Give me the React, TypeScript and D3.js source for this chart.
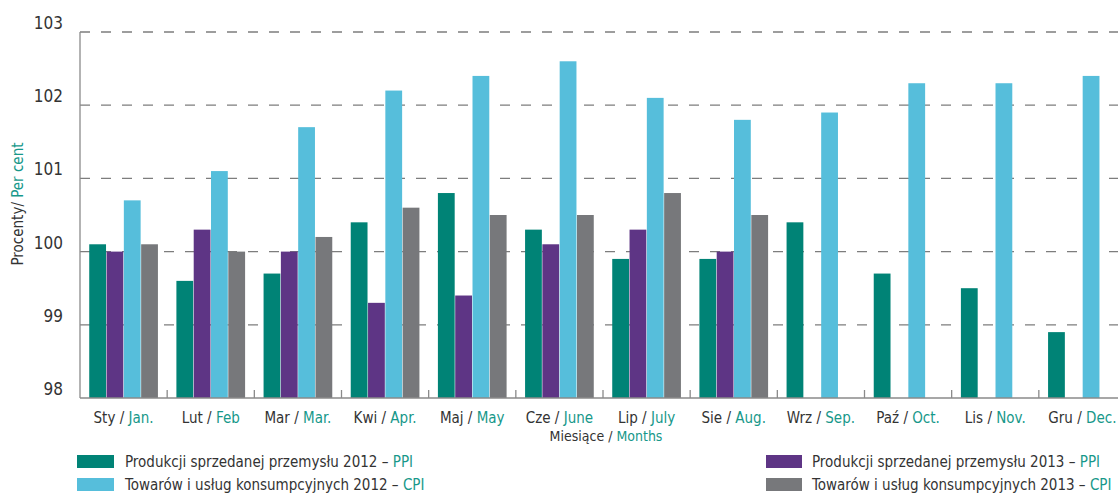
import React from 'react';
import * as d3 from 'd3';

const monthsPl = ['Sty', 'Lut', 'Mar', 'Kwi', 'Maj', 'Cze', 'Lip', 'Sie', 'Wrz', 'Paź', 'Lis', 'Gru'];
const monthsEn = ['Jan.', 'Feb', 'Mar.', 'Apr.', 'May', 'June', 'July', 'Aug.', 'Sep.', 'Oct.', 'Nov.', 'Dec.'];

const ppi2012 = [100.1, 99.6, 99.7, 100.4, 100.8, 100.3, 99.9, 99.9, 100.4, 99.7, 99.5, 98.9];
const ppi2013 = [100.0, 100.3, 100.0, 99.3, 99.4, 100.1, 100.3, 100.0, null, null, null, null];
const cpi2012 = [100.7, 101.1, 101.7, 102.2, 102.4, 102.6, 102.1, 101.8, 101.9, 102.3, 102.3, 102.4];
const cpi2013 = [100.1, 100.0, 100.2, 100.6, 100.5, 100.5, 100.8, 100.5, null, null, null, null];

const yTicks = [98, 99, 100, 101, 102, 103];

const seriesKeys = ['ppi2012', 'ppi2013', 'cpi2012', 'cpi2013'];
const seriesColors = ['#008376', '#5e3585', '#56bedb', '#77787b'];
const seriesData = [ppi2012, ppi2013, cpi2012, cpi2013];

const accent = '#17988a';
const dark = '#333333';
const font = '"Liberation Sans Narrow", "DejaVu Sans Condensed", sans-serif';

export default function App() {
  const width = 1118;
  const height = 494;
  const left = 80;
  const right = 1126;
  const top = 32;
  const bottom = 398;

  const x = d3.scaleBand<number>().domain(d3.range(12)).range([left, right]).paddingInner(0.2).paddingOuter(0.1);
  const step = x.step();
  const xs = d3.scaleBand<string>().domain(seriesKeys).range([0, x.bandwidth()]).padding(0.03);
  const y = d3.scaleLinear().domain([98, 103]).range([bottom, top]);

  return (
    <div style={{ position: 'absolute', left: 0, top: 0 }}>
      <svg width={width} height={height} style={{ display: 'block', fontFamily: font }}>
        {/* grid */}
        {yTicks.filter(t => t > 98).map(t => (
          <line key={t} x1={left} x2={width} y1={y(t)} y2={y(t)} stroke="#7d7d7d" strokeWidth={1.3} strokeDasharray="10 11" />
        ))}
        {yTicks.map(t => (
          <text key={t} x={63} y={y(t) - 3} textAnchor="end" fontSize={17} fill={dark}>{t}</text>
        ))}
        {/* bars */}
        {seriesData.map((arr, si) =>
          arr.map((v, i) =>
            v == null ? null : (
              <rect
                key={si + '-' + i}
                x={(x(i) as number) + (xs(seriesKeys[si]) as number)}
                y={y(Math.max(v, 98))}
                width={xs.bandwidth()}
                height={y(98) - y(v)}
                fill={seriesColors[si]}
              />
            )
          )
        )}
        {/* axes */}
        <line x1={left} x2={left} y1={top} y2={bottom} stroke="#8a8a8a" strokeWidth={1.3} />
        <line x1={left} x2={width} y1={bottom} y2={bottom} stroke="#8a8a8a" strokeWidth={1.5} />
        {d3.range(1, 13).map(i => (
          <line key={i} x1={left + i * step} x2={left + i * step} y1={bottom - 8} y2={bottom} stroke="#8a8a8a" strokeWidth={1.3} />
        ))}
        {/* x labels */}
        {monthsPl.map((m, i) => (
          <text key={m} x={(x(i) as number) + x.bandwidth() / 2} y={423} textAnchor="middle" fontSize={15} fill={dark}>
            {m} / <tspan fill={accent}>{monthsEn[i]}</tspan>
          </text>
        ))}
        <text x={606} y={441} textAnchor="middle" fontSize={14} fill={dark}>
          Miesiące / <tspan fill={accent}>Months</tspan>
        </text>
        {/* y title */}
        <text transform="translate(23,204) rotate(-90)" textAnchor="middle" fontSize={15} fill={dark}>
          Procenty/ <tspan fill={accent}>Per cent</tspan>
        </text>
        {/* legend */}
        <rect x={77} y={455} width={37} height={13} fill={seriesColors[0]} />
        <text x={125} y={467} fontSize={15} fill={dark}>Produkcji sprzedanej przemysłu 2012 – <tspan fill={accent}>PPI</tspan></text>
        <rect x={77} y={478} width={37} height={13} fill={seriesColors[2]} />
        <text x={125} y={490} fontSize={15} fill={dark}>Towarów i usług konsumpcyjnych 2012 – <tspan fill={accent}>CPI</tspan></text>
        <rect x={766} y={455} width={36} height={13} fill={seriesColors[1]} />
        <text x={812} y={467} fontSize={15} fill={dark}>Produkcji sprzedanej przemysłu 2013 – <tspan fill={accent}>PPI</tspan></text>
        <rect x={766} y={478} width={36} height={13} fill={seriesColors[3]} />
        <text x={812} y={490} fontSize={15} fill={dark}>Towarów i usług konsumpcyjnych 2013 – <tspan fill={accent}>CPI</tspan></text>
      </svg>
    </div>
  );
}
